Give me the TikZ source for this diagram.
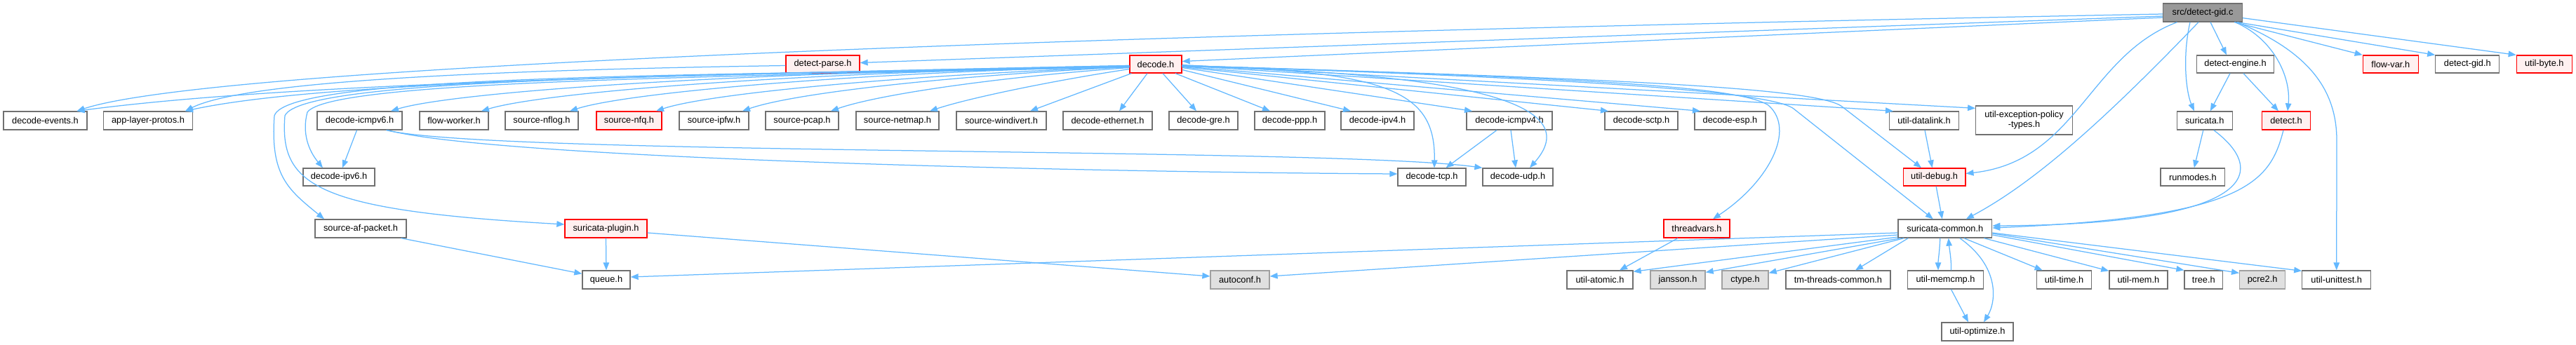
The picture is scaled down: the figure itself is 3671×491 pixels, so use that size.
\documentclass[tikz,border=0pt]{standalone}
\usepackage{fontspec}
\setmainfont{Liberation Sans}
\usetikzlibrary{arrows.meta,calc}
\definecolor{edgec}{HTML}{63B8FF}
\definecolor{boxc}{HTML}{707070}
\definecolor{redfill}{HTML}{FFF0F0}
\definecolor{extfill}{HTML}{E0E0E0}
\definecolor{extdraw}{HTML}{A0A0A0}
\definecolor{rootfill}{HTML}{999999}
\newcommand\mknode[7]{\node[#1, minimum width=#5pt, minimum height=#6pt] (#2) at (#3,#4) {#7};}
\begin{document}
\begin{tikzpicture}[x=1pt,y=-1pt,
  nb/.style={draw=boxc, fill=white, line width=1.3pt, inner sep=0pt, align=center,
     font=\fontsize{12.8}{14}\selectfont, text=black},
  red/.style={nb, draw=red, fill=redfill},
  ext/.style={nb, draw=extdraw, fill=extfill},
  root/.style={nb, fill=rootfill},
  dep/.style={draw=edgec, line width=1.25pt, -{Triangle[length=11pt,width=8.5pt]}}]
\useasboundingbox (0,0) rectangle (3671,491);
% row 1
\mknode{root}{R}{3139}{18}{113}{26}{src/detect-gid.c}
% row 2
\mknode{red}{detectparse}{1172.5}{91.5}{105}{25}{detect-parse.h}
\mknode{red}{decode}{1647}{91.5}{74}{25}{decode.h}
\mknode{nb}{detectengine}{3185.5}{91.5}{110}{25}{detect-engine.h}
\mknode{red}{flowvar}{3406.8}{91.5}{79}{25}{flow-var.h}
\mknode{nb}{detectgidh}{3516.3}{91.5}{91}{25}{detect-gid.h}
\mknode{red}{utilbyte}{3625.8}{91.5}{79}{25}{util-byte.h}
% row 3
\mknode{nb}{events}{64.5}{172}{119}{26}{decode-events.h}
\mknode{nb}{applayer}{211}{172}{127}{26}{app-layer-protos.h}
\mknode{nb}{icmpv6}{512.5}{172}{121}{26}{decode-icmpv6.h}
\mknode{nb}{flowworker}{647}{172}{98}{26}{flow-worker.h}
\mknode{nb}{nflog}{772}{172}{104}{26}{source-nflog.h}
\mknode{red}{nfq}{896.5}{172}{93}{26}{source-nfq.h}
\mknode{nb}{ipfw}{1017.5}{172}{99}{26}{source-ipfw.h}
\mknode{nb}{pcap}{1143}{172}{104}{26}{source-pcap.h}
\mknode{nb}{netmap}{1279}{172}{118}{26}{source-netmap.h}
\mknode{nb}{windivert}{1427}{172}{128}{26}{source-windivert.h}
\mknode{nb}{ethernet}{1578.5}{172}{127}{26}{decode-ethernet.h}
\mknode{nb}{gre}{1715}{172}{98}{26}{decode-gre.h}
\mknode{nb}{ppp}{1838}{172}{100}{26}{decode-ppp.h}
\mknode{nb}{ipv4}{1963}{172}{104}{26}{decode-ipv4.h}
\mknode{nb}{icmpv4}{2151}{172}{122}{26}{decode-icmpv4.h}
\mknode{nb}{sctp}{2339}{172}{104}{26}{decode-sctp.h}
\mknode{nb}{esp}{2465.5}{172}{101}{26}{decode-esp.h}
\mknode{nb}{datalink}{2742}{172}{99}{26}{util-datalink.h}
\mknode{nb}{exception}{2884.5}{171.5}{137.5}{41}{util-exception-policy\\-types.h}
\mknode{nb}{suricata}{3141.8}{172}{79}{26}{suricata.h}
\mknode{red}{detect}{3258}{172}{69}{26}{detect.h}
% row 4
\mknode{nb}{ipv6}{483}{252.5}{102}{25}{decode-ipv6.h}
\mknode{nb}{tcp}{2040.5}{252.5}{97}{25}{decode-tcp.h}
\mknode{nb}{udp}{2163}{252.5}{100}{25}{decode-udp.h}
\mknode{red}{utildebug}{2756.6}{252.5}{88.5}{25}{util-debug.h}
\mknode{nb}{runmodes}{3124.8}{252.5}{91.6}{25}{runmodes.h}
% row 5
\mknode{nb}{afpacket}{514}{326}{130}{26}{source-af-packet.h}
\mknode{red}{plugin}{863.5}{326}{117}{26}{suricata-plugin.h}
\mknode{red}{threadvars}{2418}{326}{94}{26}{threadvars.h}
\mknode{nb}{surcommon}{2771.8}{326}{133.7}{26}{suricata-common.h}
% row 6
\mknode{nb}{queue}{864}{399}{68}{26}{queue.h}
\mknode{ext}{autoconf}{1767}{399}{84}{26}{autoconf.h}
\mknode{nb}{atomic}{2280}{399}{94}{26}{util-atomic.h}
\mknode{ext}{jansson}{2391}{399}{78}{26}{jansson.h}
\mknode{ext}{ctype}{2487}{399}{66}{26}{ctype.h}
\mknode{nb}{tmthreads}{2619.5}{399}{149}{26}{tm-threads-common.h}
\mknode{nb}{memcmp}{2772.5}{399}{107.7}{26}{util-memcmp.h}
\mknode{nb}{utiltime}{2941.5}{399}{78}{26}{util-time.h}
\mknode{nb}{utilmem}{3047.4}{399}{83}{26}{util-mem.h}
\mknode{nb}{tree}{3140.3}{399}{54.5}{26}{tree.h}
\mknode{ext}{pcre2}{3224.1}{399}{65}{26}{pcre2.h}
\mknode{nb}{unittest}{3329.7}{399}{97.8}{26}{util-unittest.h}
% row 7
\mknode{nb}{optimize}{2818}{473}{102}{26}{util-optimize.h}

% ---- edges from root
\draw[dep] ([yshift=-2pt]R.west) .. controls (1500,50) and (300,95) .. ([xshift=45pt]events.north);
\draw[dep] ([yshift=-5pt]R.west) -- ([yshift=2pt]detectparse.east);
\draw[dep] ([yshift=-7pt]R.west) -- ([yshift=4pt]decode.east);
\draw[dep] ([xshift=-36.5pt]R.south) .. controls (2975,80) and (2960,230) .. ([yshift=5pt]utildebug.east);
\draw[dep] ([xshift=-6pt]R.south) .. controls (3000,170) and (2900,260) .. ([xshift=30pt]surcommon.north);
\draw[dep] ([xshift=-18pt]R.south) .. controls (3110,80) and (3115,130) .. ([xshift=-15pt]suricata.north);
\draw[dep] ([xshift=11pt]R.south) -- ([xshift=-12.5pt]detectengine.north);
\draw[dep] ([xshift=46pt]R.south) .. controls (3240,55) and (3265,110) .. ([xshift=2pt]detect.north);
\draw[dep] ([xshift=49pt]R.south) .. controls (3280,70) and (3330,120) .. (3330,200) -- (unittest.north);
\draw[dep] ([xshift=-12pt]R.south east) -- (flowvar.north west);
\draw[dep] ([xshift=-8pt]R.south east) -- (detectgidh.north west);
\draw[dep] ([yshift=6pt]R.south east) -- (utilbyte.north west);
% ---- detect-engine.h, suricata.h, detect.h
\draw[dep] ([xshift=-7.5pt]detectengine.south) -- ([xshift=8pt]suricata.north);
\draw[dep] ([xshift=11.5pt]detectengine.south) -- ([xshift=-11pt]detect.north);
\draw[dep] ([xshift=-2pt]suricata.south) -- ([xshift=2pt]runmodes.north);
\draw[dep] ([xshift=13pt]suricata.south) .. controls (3240,250) and (3200,320) .. ([yshift=4pt]surcommon.east);
\draw[dep] ([xshift=-4pt]detect.south) .. controls (3235,260) and (3200,310) .. ([yshift=1pt]surcommon.east);
\draw[dep] ([xshift=2.5pt]utildebug.south) -- ([xshift=-4pt]surcommon.north);
\draw[dep] ([xshift=1pt]datalink.south) -- ([xshift=-3pt]utildebug.north);
% ---- detect-parse.h
\draw[dep] ([yshift=-2pt]detectparse.west) .. controls (700,100) and (350,115) .. ([xshift=53pt]applayer.north);
% ---- decode.h, west side
\draw[dep] ([yshift=-2pt]decode.west) .. controls (900,108) and (400,120) .. ([xshift=45pt]events.north);
\draw[dep] ([yshift=-2pt]decode.west) .. controls (900,108) and (450,118) .. ([xshift=53pt]applayer.north);
\draw[dep] ([yshift=-3pt]decode.west) .. controls (1000,104) and (640,133) .. ([xshift=44.5pt]icmpv6.north);
\draw[dep] ([yshift=-3pt]decode.west) .. controls (1100,104) and (770,133) .. ([xshift=39pt]flowworker.north);
\draw[dep] ([yshift=-3pt]decode.west) .. controls (1200,104) and (890,133) .. ([xshift=40pt]nflog.north);
\draw[dep] ([yshift=-4pt]decode.west) .. controls (1300,106) and (1010,133) .. ([xshift=38.5pt]nfq.north);
\draw[dep] ([yshift=-4pt]decode.west) .. controls (1350,108) and (1130,133) .. ([xshift=40.5pt]ipfw.north);
\draw[dep] ([yshift=-5pt]decode.west) .. controls (1420,110) and (1250,135) .. ([xshift=41pt]pcap.north);
\draw[dep] ([yshift=-7pt]decode.west) .. controls (1500,115) and (1380,140) .. ([xshift=46pt]netmap.north);
\draw[dep] ([xshift=3pt]decode.south west) -- ([xshift=41pt]windivert.north);
\draw[dep] ([yshift=-4pt]decode.west) .. controls (1000,110) and (470,115) .. (438,160) .. controls (430,190) and (440,215) .. ([xshift=-23pt]ipv6.north);
\draw[dep] ([yshift=-4pt]decode.west) .. controls (1000,108) and (430,110) .. (406,165) .. controls (398,265) and (450,300) .. ([yshift=6pt]plugin.west);
\draw[dep] ([yshift=-4pt]decode.west) .. controls (1000,108) and (410,105) .. (391,165) .. controls (385,250) and (410,270) .. ([xshift=-52pt]afpacket.north);
% ---- decode.h, south and east side
\draw[dep] ([xshift=-12pt]decode.south) -- ([xshift=16.5pt]ethernet.north);
\draw[dep] ([xshift=10pt]decode.south) -- ([xshift=-10pt]gre.north);
\draw[dep] ([xshift=28pt]decode.south) -- ([xshift=-28pt]ppp.north);
\draw[dep] ([yshift=-8pt]decode.east) -- ([xshift=-38pt]ipv4.north);
\draw[dep] ([yshift=-5pt]decode.east) -- ([xshift=-53pt]icmpv4.north);
\draw[dep] ([yshift=-4pt]decode.east) -- ([xshift=-47pt]sctp.north);
\draw[dep] ([yshift=-3pt]decode.east) -- ([xshift=-42.5pt]esp.north);
\draw[dep] ([yshift=-2pt]decode.east) -- ([xshift=-44pt]datalink.north);
\draw[dep] ([yshift=-1pt]decode.east) -- ([yshift=-4pt]exception.north west);
\draw[dep] ([yshift=-3pt]decode.east) .. controls (1980,100) and (2046,130) .. ([xshift=3.5pt]tcp.north);
\draw[dep] ([yshift=-3pt]decode.east) .. controls (2150,105) and (2250,160) .. ([xshift=17pt]udp.north);
\draw[dep] ([yshift=-2pt]decode.east) .. controls (2300,112) and (2480,125) .. (2520,150) .. controls (2560,185) and (2520,260) .. ([xshift=23pt]threadvars.north);
\draw[dep] ([yshift=-2pt]decode.east) .. controls (2200,110) and (2520,128) .. (2556,155) -- ([xshift=-17pt]surcommon.north);
\draw[dep] ([yshift=-2pt]decode.east) .. controls (2300,112) and (2590,125) .. (2625,152) -- ([xshift=-18.6pt]utildebug.north);
% ---- icmpv6 / icmpv4
\draw[dep] ([xshift=-4pt]icmpv6.south) -- ([xshift=5pt]ipv6.north);
\draw[dep] ([xshift=38pt]icmpv6.south) .. controls (700,222) and (1900,210) .. (udp.north west);
\draw[dep] ([xshift=40pt]icmpv6.south) .. controls (700,225) and (1500,245) .. ([yshift=4.5pt]tcp.west);
\draw[dep] ([xshift=-18pt]icmpv4.south) -- ([xshift=20pt]tcp.north);
\draw[dep] ([xshift=2pt]icmpv4.south) -- ([xshift=-3pt]udp.north);
% ---- lower part
\draw[dep] ([xshift=-27pt]threadvars.south) -- ([xshift=28pt]atomic.north);
\draw[dep] ([xshift=-8pt]afpacket.south east) -- ([yshift=-5pt]queue.north west);
\draw[dep] (plugin.south) -- (queue.north);
\draw[dep] ([yshift=-6pt]plugin.east) -- ([yshift=5pt]autoconf.west);
% ---- suricata-common.h
\draw[dep] ([yshift=-6pt]surcommon.west) -- ([yshift=4pt]queue.east);
\draw[dep] ([yshift=-9pt]surcommon.west) -- ([yshift=5pt]autoconf.east);
\draw[dep] ([yshift=-12pt]surcommon.west) -- ([yshift=-2pt]atomic.north east);
\draw[dep] ([xshift=4pt]surcommon.south west) -- ([yshift=-3pt]jansson.north east);
\draw[dep] ([xshift=9pt]surcommon.south west) -- ([yshift=-4pt]ctype.north east);
\draw[dep] ([xshift=15pt]surcommon.south west) -- ([xshift=24.5pt]tmthreads.north);
\draw[dep] ([xshift=-7pt]surcommon.south) .. controls (2764,360) and (2762,370) .. ([xshift=-10.5pt]memcmp.north);
\draw[dep] ([xshift=8pt]memcmp.north) .. controls (2781,370) and (2778,355) .. ([xshift=5pt]surcommon.south);
\draw[dep] ([xshift=21pt]surcommon.south) .. controls (2850,380) and (2845,430) .. ([xshift=9pt]optimize.north);
\draw[dep] ([xshift=8pt]memcmp.south) -- ([xshift=-13pt]optimize.north);
\draw[dep] ([xshift=27pt]surcommon.south) -- ([xshift=-31pt]utiltime.north);
\draw[dep] ([xshift=-12pt]surcommon.south east) -- ([yshift=-1pt]utilmem.north west);
\draw[dep] ([yshift=-9pt]surcommon.east) -- (tree.north west);
\draw[dep] ([yshift=-7pt]surcommon.east) -- ([yshift=-4pt]pcre2.north west);
\draw[dep] ([yshift=-6pt]surcommon.east) -- ([yshift=-1pt]unittest.north west);
\end{tikzpicture}
\end{document}
